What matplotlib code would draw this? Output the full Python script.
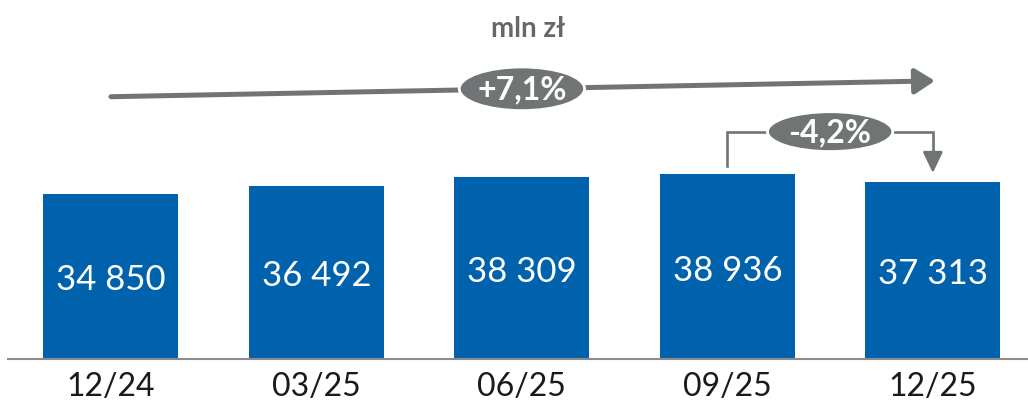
import matplotlib.pyplot as plt
from matplotlib.patches import Ellipse

plt.rcParams['font.family'] = ['Lato', 'DejaVu Sans']

# data
periods = ['12/24', '03/25', '06/25', '09/25', '12/25']
values = [34850, 36492, 38309, 38936, 37313]
labels = ['34 850', '36 492', '38 309', '38 936', '37 313']
total_change = '+7,1%'
last_change = '-4,2%'

blue = '#0062ad'
grey = '#717475'

fig = plt.figure(figsize=(10.28, 4.06), dpi=100)
ax = fig.add_axes([8 / 1028, 46 / 406, 1020 / 1028, 360 / 406])

x = range(len(values))
ax.bar(x, values, width=0.657, color=blue, zorder=2)
for i, v in enumerate(values):
    ax.text(i, v / 2 - 600, labels[i], ha='center', va='center', color='white', fontsize=25)

ax.set_xlim(-0.501, 4.463)
ax.set_ylim(0, 75900)
ax.set_xticks(list(x))
ax.set_xticklabels(periods, fontsize=23, color='#1a1a1a')
ax.tick_params(axis='x', length=0, pad=9)
ax.set_yticks([])
for s in ['top', 'right', 'left']:
    ax.spines[s].set_visible(False)
ax.spines['bottom'].set_color('#8c8c8c')
ax.spines['bottom'].set_linewidth(1.5)

# unit title
ax.text(0.5 * (len(values) - 1) + 0.03, 69800, 'mln zł', ha='center', va='center',
        fontsize=20, fontweight='bold', color='#666666')

# overall trend arrow
ax.annotate('', xy=(4.01, 58640), xytext=(0, 55300),
            arrowprops=dict(arrowstyle='-|>,head_length=0.55,head_width=0.35', lw=3.6,
                            color=grey, mutation_scale=22, shrinkA=0, shrinkB=0))
e1 = Ellipse((2.0, 56970), 0.61, 9200, facecolor=grey, edgecolor='white', lw=2, zorder=5)
ax.add_patch(e1)
ax.text(2.0, 56970, total_change, ha='center', va='center', color='white',
        fontsize=23, fontweight='bold', zorder=6)

# last quarter bracket
top = values[3] + 9000
ax.plot([3, 3, 4, 4], [values[3] + 1800, top, top, values[4] + 4000],
        color=grey, lw=1.9, zorder=3, solid_joinstyle='miter')
ax.annotate('', xy=(4, values[4] + 1900), xytext=(4, values[4] + 4200),
            arrowprops=dict(arrowstyle='-|>,head_length=0.8,head_width=0.38', lw=1.9,
                            color=grey, mutation_scale=16, shrinkA=0, shrinkB=0))
e2 = Ellipse((3.5, top), 0.61, 8400, facecolor=grey, edgecolor='white', lw=2, zorder=5)
ax.add_patch(e2)
ax.text(3.5, top, last_change, ha='center', va='center', color='white',
        fontsize=23, fontweight='bold', zorder=6)

plt.savefig('out.png', dpi=100)
plt.close()
